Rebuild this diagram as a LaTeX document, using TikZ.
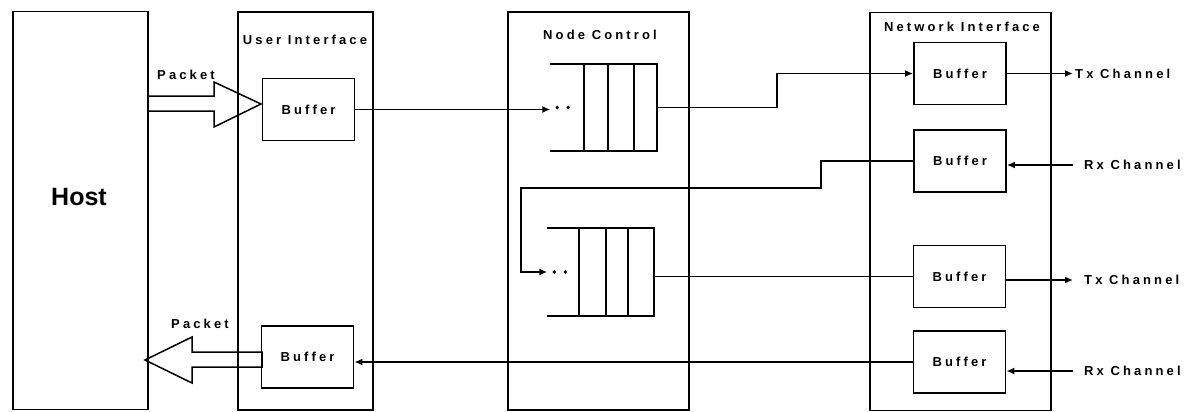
\documentclass[tikz,border=0pt]{standalone}
\usepackage{fontspec}
\setmainfont{Liberation Sans}
\newfontfamily\boxfont[LetterSpace=24]{Liberation Sans}
\usetikzlibrary{arrows.meta,positioning,calc}
\tikzset{
  panel/.style  ={draw,line width=1.8pt,minimum height=398,inner sep=0pt},
  buffer/.style ={draw,line width=1.8pt,minimum width=92,minimum height=62,inner sep=0pt},
  queue/.style  ={inner sep=0pt,minimum width=106,minimum height=87},
  txt/.style    ={font=\boxfont\bfseries\fontsize{13}{15}\selectfont,inner sep=1pt},
  chan/.style   ={txt,anchor=west,inner xsep=11pt},
  conn/.style   ={line width=1.8pt},
  arrow/.style  ={conn,-{Latex[length=8pt,width=7pt]}},
  fat/.style    ={line width=1.5pt,line join=miter}
}
\begin{document}
\begin{tikzpicture}[x=1pt,y=-1pt]
  \useasboundingbox (0,0) rectangle (1202,412);
  % columns
  \node[panel,minimum width=135] (host) at (80.5,210.5) {};
  \node[panel,minimum width=135] (ui)   at (305.5,211) {};
  \node[panel,minimum width=181] (nc)   at (598.5,211) {};
  \node[panel,minimum width=181] (ni)   at (960.5,211.5) {};
  \node[font=\bfseries\fontsize{25}{28}\selectfont] (hostlabel) at (79,197) {Host};
  \node[txt] (uititle) at (305,40) {User Interface};
  \node[txt] (nctitle) at (600,35) {Node Control};
  \node[txt] (nititle) at (962,27) {Network Interface};
  % buffers
  \node[buffer,txt] (ubuf1) at (308.5,109.5) {Buffer};
  \node[buffer,txt] (ubuf2) at (307.5,357)   {Buffer};
  \node[buffer,txt] (nbuf1) at (960,73.5)    {Buffer};
  \node[buffer,txt] (nbuf2) at (960,161)     {Buffer};
  \node[buffer,txt] (nbuf3) at (959.5,276.5) {Buffer};
  \node[buffer,txt] (nbuf4) at (959.5,362)   {Buffer};
  % queues
  \node[queue] (q1) at (603.5,107.5) {};
  \node[queue] (q2) at (600.5,272)   {};
  \foreach \q/\a/\b/\c in {q1/.32/.54/.79,q2/.30/.55/.76}{
    \draw[conn] (\q.north west) -- (\q.north east) -- (\q.south east) -- (\q.south west);
    \foreach \f in {\a,\b,\c}
      \draw[conn] ($(\q.north west)!\f!(\q.north east)$) -- ($(\q.south west)!\f!(\q.south east)$);
    \fill ($(\q.west)+(7,0)$) circle (1.9pt) ($(\q.west)+(18,0)$) circle (1.9pt);
  }
  % channels
  \node[chan,inner xsep=2pt] (tx1) at (1073,73.5) {Tx Channel};
  \node[chan] (rx1) at (1073,165) {Rx Channel};
  \node[chan] (tx2) at (1073,280) {Tx Channel};
  \node[chan] (rx2) at (1073,371) {Rx Channel};
  % packets
  \draw[fat] (148,96) -- (214,96) -- (214,82) -- (261,104) -- (214,127) -- (214,111) -- (148,111) -- cycle;
  \draw[fat] (262,352) -- (192,352) -- (192,337) -- (145,360) -- (192,383) -- (192,367) -- (262,367) -- cycle;
  \node[txt] (pkin)  at (186,75)  {Packet};
  \node[txt] (pkout) at (200,324) {Packet};
  % links
  \draw[arrow] (ubuf1.east) -- (ubuf1.east -| q1.west);
  \draw[arrow] (q1.east) -- ++(120,0) |- (nbuf1.west);
  \draw[arrow] (nbuf2.west) -- ++(-92,0) -- ++(0,27) -| ($(q2.west)+(-26,0)$) -- (q2.west);
  \draw[conn]  (q2.east |- nbuf3.west) -- (nbuf3.west);
  \draw[arrow] (nbuf4.west) -- (nbuf4.west -| ubuf2.east);
  \draw[arrow] (nbuf1.east) -- (tx1.west);
  \draw[arrow] (rx1.west) -- (rx1.west -| nbuf2.east);
  \draw[arrow] (nbuf3.east |- tx2.west) -- (tx2.west);
  \draw[arrow] (rx2.west) -- (rx2.west -| nbuf4.east);
\end{tikzpicture}
\end{document}
